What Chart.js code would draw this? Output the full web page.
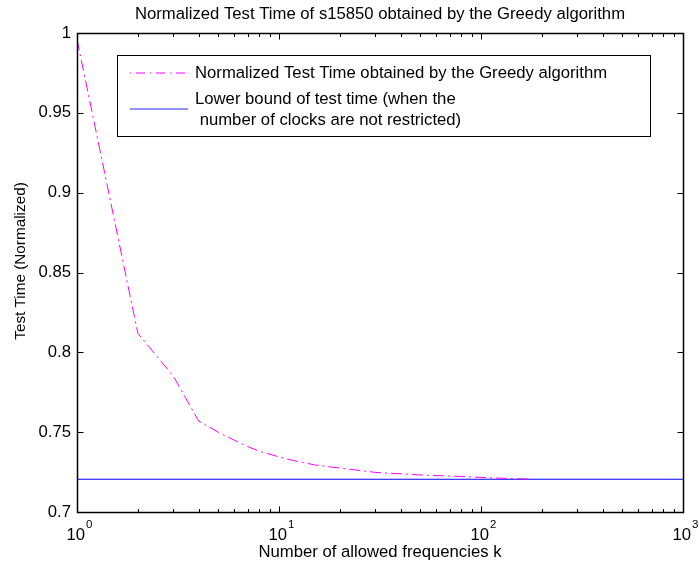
<!DOCTYPE html>
<html>
<head>
<meta charset="utf-8">
<script src="https://cdn.jsdelivr.net/npm/chart.js@4.4.1/dist/chart.umd.min.js"></script>
<style>
html,body{margin:0;padding:0;background:#fff;}
#wrap{width:699px;height:565px;}
</style>
</head>
<body>
<div id="wrap"><canvas id="chart" width="699" height="565"></canvas></div>
<script>
// data
const kValues=[1,2,3,4,5,6,7,8,10,12,15,20,30,50,70,100,150,180];
const greedyTime=[0.996,0.812,0.785,0.757,0.750,0.745,0.741,0.738,0.7345,0.732,0.7295,0.7275,0.7248,0.7232,0.7225,0.7217,0.7208,0.7206];
const boundK=[1,1000];
const boundTime=[0.7205,0.7205];
const yTicks=[0.7,0.75,0.8,0.85,0.9,0.95,1];
const xDecades=[0,1,2,3];

const titleText="Normalized Test Time of s15850 obtained by the Greedy algorithm";
const yTitle="Test Time (Normalized)";
const xTitle="Number of allowed frequencies k";
const greedyLabel="Normalized Test Time obtained by the Greedy algorithm";
const boundLabel=["Lower bound of test time (when the"," number of clocks are not restricted)"];

const FONT="Liberation Sans, Arial, Helvetica, sans-serif";
const FS=16.7;
const MAGENTA="#ff00ff", BLUE="#0000ff";
const DASHDOT=[11,4,2,4];

const el=id=>document.getElementById(id);

// box, inward ticks, decade labels, title, y title and legend
const frame={
id:"frame",
afterDraw(c){
let ctx=c.ctx, a=c.chartArea, xs=c.scales.x, ys=c.scales.y;
let L=Math.round(a.left)+0.5, R=Math.round(a.right)+0.5, T=Math.round(a.top)+0.5, B=Math.round(a.bottom)+0.5;
ctx.save();
ctx.strokeStyle="#000";ctx.lineWidth=1;
ctx.beginPath();
// y ticks both sides
yTicks.forEach(v=>{
let y=Math.round(ys.getPixelForValue(v))+0.5;
ctx.moveTo(L,y);ctx.lineTo(L+6,y);
ctx.moveTo(R,y);ctx.lineTo(R-6,y);
});
// x ticks top and bottom
xDecades.forEach(d=>{
for(let m=1;m<=9;m++){
let v=m*Math.pow(10,d);
if(v>1000) break;
let x=Math.round(xs.getPixelForValue(v))+0.5;
let len=m===1?6:3.5;
ctx.moveTo(x,B);ctx.lineTo(x,B-len);
ctx.moveTo(x,T);ctx.lineTo(x,T+len);
}
});
ctx.stroke();
ctx.lineWidth=1.5;
ctx.strokeRect(L,T,R-L,B-T);

// decade labels 10^n
ctx.fillStyle="#000";
xDecades.forEach(d=>{
let x=xs.getPixelForValue(Math.pow(10,d));
ctx.font=FS+"px "+FONT;
let w1=ctx.measureText("10").width;
ctx.font="11.5px "+FONT;
let w2=ctx.measureText(String(d)).width;
let x0=x-(w1+w2)/2+2;
ctx.textBaseline="alphabetic";ctx.textAlign="left";
ctx.font=FS+"px "+FONT;
ctx.fillText("10",x0,B+27);
ctx.font="11.5px "+FONT;
ctx.fillText(String(d),x0+w1+1,B+15);
});

// title
ctx.font=FS+"px "+FONT;
ctx.textAlign="center";ctx.textBaseline="middle";
ctx.fillText(titleText,(a.left+a.right)/2,14);

// y title
ctx.save();
ctx.translate(21,261);ctx.rotate(-Math.PI/2);
ctx.font="15.3px "+FONT;
ctx.fillText(yTitle,0,0);
ctx.restore();

// legend
let lx=117.5, ly=55.5, lw=533, lh=81;
ctx.fillStyle="#fff";ctx.fillRect(lx,ly,lw,lh);
ctx.strokeStyle="#000";ctx.lineWidth=1;ctx.strokeRect(lx,ly,lw,lh);
ctx.lineWidth=1.2;
ctx.strokeStyle=MAGENTA;ctx.setLineDash([1,5,9,5]);
ctx.beginPath();ctx.moveTo(130,73);ctx.lineTo(186,73);ctx.stroke();
ctx.setLineDash([]);
ctx.strokeStyle="#6f6fff";ctx.lineWidth=1.5;
ctx.beginPath();ctx.moveTo(130,109);ctx.lineTo(188,109);ctx.stroke();
let ds=c.data.datasets;
ctx.fillStyle="#000";ctx.font=FS+"px "+FONT;ctx.textAlign="left";ctx.textBaseline="middle";
ctx.fillText(ds[0].label,195,73);
let lines=ds[1].label;
ctx.fillText(lines[0],195,99);
ctx.fillText(lines[1],195,120);
ctx.restore();
}
};

new Chart(el("chart"),{
type:"line",
data:{
datasets:[
{label:greedyLabel,data:kValues.map((k,i)=>({x:k,y:greedyTime[i]})),borderColor:MAGENTA,borderWidth:1,borderDash:DASHDOT,pointRadius:0,fill:false,tension:0},
{label:boundLabel,data:boundK.map((k,i)=>({x:k,y:boundTime[i]})),borderColor:BLUE,borderWidth:1.2,pointRadius:0,fill:false,tension:0}
]
},
plugins:[frame],
options:{
responsive:false,
animation:false,
events:[],
layout:{padding:{top:33,right:16,left:0,bottom:0}},
plugins:{legend:{display:false},title:{display:false},tooltip:{enabled:false}},
scales:{
x:{
type:"logarithmic",min:1,max:1000,
grid:{display:false,drawTicks:false},
border:{display:false},
ticks:{display:false},
title:{display:true,text:xTitle,color:"#000",font:{family:FONT,size:FS},padding:{top:4,bottom:3}},
afterFit:s=>{s.height=53;}
},
y:{
min:0.7,max:1,
grid:{display:false,drawTicks:false},
border:{display:false},
afterBuildTicks:s=>{s.ticks=yTicks.map(v=>({value:v}));},
ticks:{color:"#000",font:{family:FONT,size:FS},padding:6,callback:v=>String(+v.toFixed(2))},
title:{display:false,text:yTitle},
afterFit:s=>{s.width=77;}
}
}
}
});
</script>
</body>
</html>
